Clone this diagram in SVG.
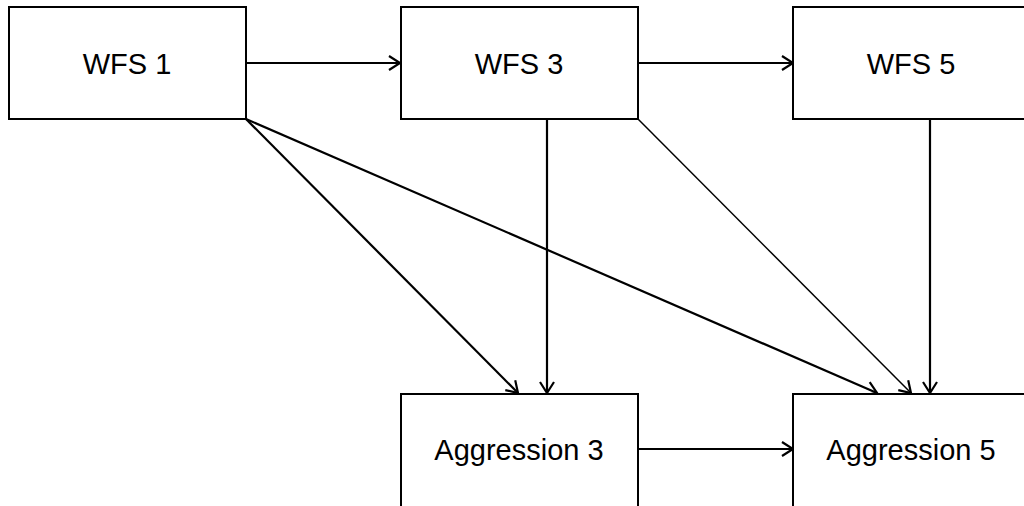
<svg xmlns="http://www.w3.org/2000/svg" width="1024" height="506" viewBox="0 0 1024 506">
<style>
.box{fill:#fff;stroke:#000;stroke-width:2}
.lbl{font-family:"Liberation Sans",Arial,sans-serif;font-size:29px;fill:#000;text-anchor:middle}
.c{stroke:#000;stroke-width:2.2;fill:none;marker-end:url(#ah)}
.t{stroke:#000;stroke-width:1.5;fill:none;marker-end:url(#ah)}
</style>
<defs>
<marker id="ah" markerUnits="userSpaceOnUse" markerWidth="16" markerHeight="18" refX="13" refY="9" orient="auto">
<path d="M2,2 L13,9 L2,16" fill="none" stroke="#000" stroke-width="2.2"/>
</marker>
</defs>
<rect width="1024" height="506" fill="#fff"/>
<g id="connectors">
<line class="c" x1="246" y1="63" x2="400" y2="63"/>
<line class="c" x1="638" y1="63" x2="793" y2="63"/>
<line class="c" x1="638" y1="449" x2="793" y2="449"/>
<line class="c" x1="547" y1="119" x2="547" y2="393"/>
<line class="c" x1="930" y1="119" x2="930" y2="393"/>
<line class="c" x1="246" y1="119" x2="518" y2="393"/>
<line class="c" x1="246" y1="119" x2="877" y2="393"/>
<line class="t" x1="638" y1="119" x2="911" y2="393"/>
</g>
<g id="wfs1"><rect class="box" x="9" y="7" width="237" height="112"/><text class="lbl" x="127" y="74">WFS 1</text></g>
<g id="wfs3"><rect class="box" x="401" y="7" width="237" height="112"/><text class="lbl" x="519" y="74">WFS 3</text></g>
<g id="wfs5"><rect class="box" x="793" y="7" width="240" height="112"/><text class="lbl" x="911" y="74">WFS 5</text></g>
<g id="agg3"><rect class="box" x="401" y="394" width="237" height="120"/><text class="lbl" x="519" y="460">Aggression 3</text></g>
<g id="agg5"><rect class="box" x="793" y="394" width="240" height="120"/><text class="lbl" x="911" y="460">Aggression 5</text></g>
</svg>
